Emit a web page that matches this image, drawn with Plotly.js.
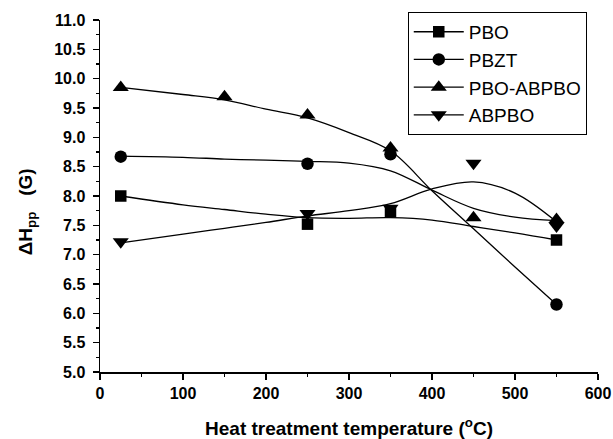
<!DOCTYPE html>
<html>
<head>
<meta charset="utf-8">
<script src="https://cdn.plot.ly/plotly-3.0.1.min.js"></script>
<style>html,body{margin:0;padding:0;background:#fff;}#chart{width:613px;height:439px;}</style>
</head>
<body>
<div id="chart"></div>
<script>
// Series names
const seriesNames = ["PBO", "PBZT", "PBO-ABPBO", "ABPBO"];
const seriesSymbols = ["square", "circle", "triangle-up", "triangle-down"];

// Measured points (heat treatment temperature in °C, ΔHpp in G)
const pboX = [25, 250, 350, 550];
const pboY = [8.0, 7.52, 7.73, 7.25];
const pbztX = [25, 250, 350, 550];
const pbztY = [8.67, 8.55, 8.71, 6.15];
const pboAbpboX = [25, 150, 250, 350, 450, 550];
const pboAbpboY = [9.85, 9.69, 9.38, 8.82, 7.63, 7.60];
const abpboX = [25, 250, 350, 450, 550];
const abpboY = [7.22, 7.70, 7.79, 8.56, 7.49];

// Smoothed fit curves as drawn in the figure
const curveX = [25, 100, 150, 200, 250, 300, 350, 400, 450, 500, 550];
const curvePbo = [8.0, 7.85, 7.77, 7.69, 7.63, 7.62, 7.63, 7.59, 7.48, 7.37, 7.25];
const curveAbpbo = [7.2, 7.35, 7.45, 7.55, 7.66, 7.75, 7.87, 8.12, 8.24, 8.05, 7.56];
const curveUpper = [9.85, 9.73, 9.64, 9.48, 9.33, 9.08, 8.77, 8.09, 7.44, 6.79, 6.15];
const curveMiddle = [8.68, 8.66, 8.63, 8.61, 8.59, 8.56, 8.43, 8.10, 7.79, 7.64, 7.58];

// Axis ticks
const xTicks = [0, 100, 200, 300, 400, 500, 600];
const yTicks = [5.0, 5.5, 6.0, 6.5, 7.0, 7.5, 8.0, 8.5, 9.0, 9.5, 10.0, 10.5, 11.0];

const FONT = "Liberation Sans, Arial, sans-serif";
const markerSizes = {"square": 11.5, "circle": 12.5, "triangle-up": 14, "triangle-down": 14};

const pointSets = [[pboX, pboY], [pbztX, pbztY], [pboAbpboX, pboAbpboY], [abpboX, abpboY]];
const curves = [curvePbo, curveMiddle, curveUpper, curveAbpbo];

const traces = [];
curves.forEach(function (c) {
  traces.push({
    x: curveX, y: c, mode: "lines", type: "scatter",
    line: {color: "black", width: 1.3, shape: "spline", smoothing: 1},
    showlegend: false, hoverinfo: "skip"
  });
});
pointSets.forEach(function (p, i) {
  traces.push({
    x: p[0], y: p[1], mode: "markers", type: "scatter",
    marker: {symbol: seriesSymbols[i], size: markerSizes[seriesSymbols[i]], color: "black"},
    showlegend: false, name: seriesNames[i]
  });
});
// legend entries (line with marker)
seriesNames.forEach(function (n, i) {
  traces.push({
    x: [null], y: [null], mode: "lines+markers", type: "scatter", name: n,
    line: {color: "black", width: 1.3},
    marker: {symbol: seriesSymbols[i], size: markerSizes[seriesSymbols[i]], color: "black"}
  });
});

const layout = {
  width: 613, height: 439,
  margin: {l: 100, r: 15, t: 20, b: 67},
  paper_bgcolor: "white", plot_bgcolor: "white",
  font: {family: FONT, color: "black"},
  xaxis: {
    range: [0, 600], tickvals: xTicks, ticktext: xTicks.map(String),
    showline: true, linecolor: "black", linewidth: 1.5,
    ticks: "outside", ticklen: 6, tickwidth: 1.5, tickcolor: "black",
    minor: {dtick: 50, tick0: 0, ticks: "outside", ticklen: 3, tickwidth: 1.2, tickcolor: "black"},
    showgrid: false, zeroline: false,
    tickfont: {family: FONT, size: 16, weight: "bold", color: "black"},
    ticklabelstandoff: 0,
    title: {text: "Heat treatment temperature (<sup>o</sup>C)", font: {family: FONT, size: 19, weight: "bold", color: "black"}, standoff: 24}
  },
  yaxis: {
    range: [5, 11], tickvals: yTicks, ticktext: yTicks.map(function (v) { return v.toFixed(1); }),
    showline: true, linecolor: "black", linewidth: 1.5,
    ticks: "outside", ticklen: 6, tickwidth: 1.5, tickcolor: "black",
    minor: {dtick: 0.25, tick0: 5, ticks: "outside", ticklen: 3, tickwidth: 1.2, tickcolor: "black"},
    showgrid: false, zeroline: false,
    tickfont: {family: FONT, size: 16, weight: "bold", color: "black"},
    ticklabelstandoff: 4,
    title: {text: "ΔH<sub>pp</sub>\u00a0\u00a0\u00a0(G)<span style=\"color:rgba(0,0,0,0)\">\u00a0\u00a0\u00a0\u00a0\u00a0.</span>", font: {family: FONT, size: 19, weight: "bold", color: "black"}, standoff: 16}
  },
  legend: {
    x: 0.618, y: 1.023, xanchor: "left", yanchor: "top",
    bgcolor: "white", bordercolor: "black", borderwidth: 1,
    font: {family: FONT, size: 19, color: "black"},
    itemwidth: 50, tracegroupgap: 0
  }
};

Plotly.newPlot("chart", traces, layout, {displayModeBar: false, staticPlot: true});
</script>
</body>
</html>
